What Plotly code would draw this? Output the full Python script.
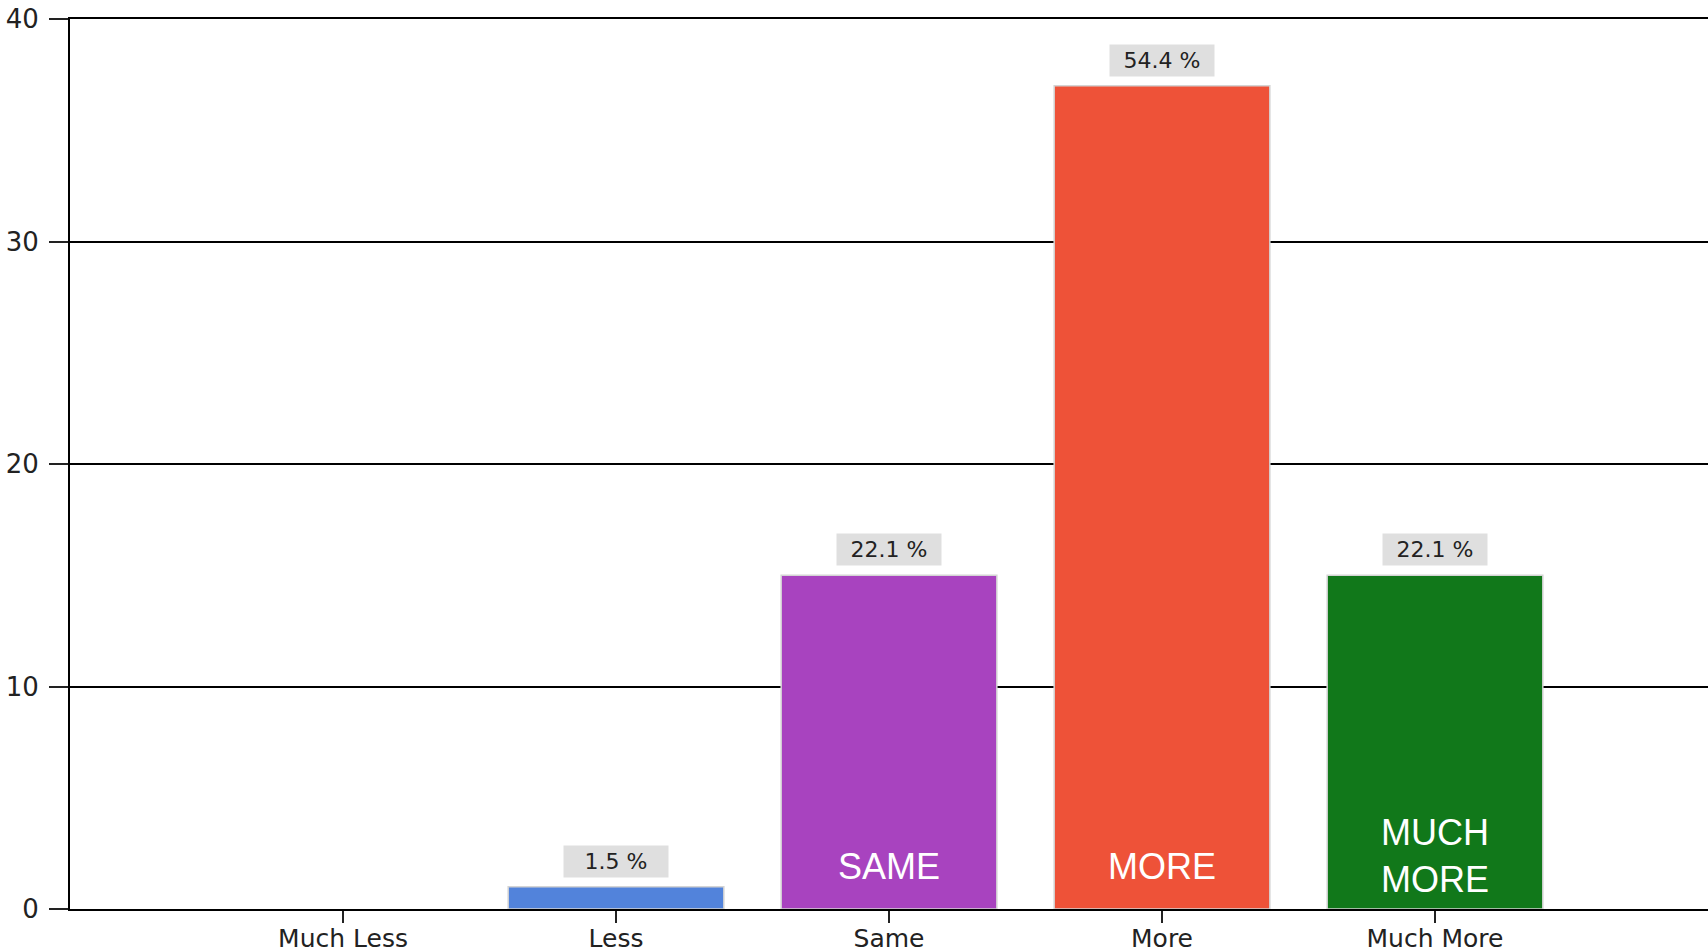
import plotly.graph_objects as go

categories = ["Much Less", "Less", "Same", "More", "Much More"]
counts = [0, 1, 15, 37, 15]
bar_colors = ["#5283DB", "#5283DB", "#A843BF", "#EE5238", "#11781A"]
inside_labels = ["", "", "SAME", "MORE", "MUCH<br>MORE"]
y_ticks = [0, 10, 20, 30, 40]

total = sum(counts)
pct_labels = [f"{c / total * 100:.1f} %" for c in counts]

fig = go.Figure()
fig.add_trace(go.Bar(
    x=categories, y=counts, width=0.79,
    marker=dict(color=bar_colors,
                line=dict(color="#D4D4D4", width=[1.5 if c > 0 else 0 for c in counts])),
    hoverinfo="x+y", showlegend=False,
))

annotations = []
for cat, c, p, lab in zip(categories, counts, pct_labels, inside_labels):
    if c > 0:
        annotations.append(dict(
            x=cat, y=c, xref="x", yref="y", text=p, showarrow=False,
            yanchor="bottom", yshift=9, bgcolor="#DFDFDF", width=100, height=27,
            borderpad=2, font=dict(family="DejaVu Sans", size=22, color="#222222"),
        ))
    if lab:
        nlines = lab.count("<br>") + 1
        annotations.append(dict(
            x=cat, y=0, xref="x", yref="y", text=lab, showarrow=False,
            yanchor="middle", yshift=43 if nlines == 1 else 53,
            font=dict(family="Liberation Sans, Arial", size=36, color="white"),
        ))

fig.update_layout(
    width=1708, height=952,
    margin=dict(l=70, r=0, t=19, b=43),
    paper_bgcolor="white", plot_bgcolor="white",
    bargap=0.21,
    annotations=annotations,
    xaxis=dict(
        type="category", range=[-1, 5], showgrid=False, automargin=False,
        showline=True, linecolor="black", linewidth=2, mirror=True,
        ticks="outside", ticklen=12, tickwidth=2, tickcolor="#222222",
        tickfont=dict(family="DejaVu Sans", size=25, color="#222222"),
        ticklabelstandoff=-6,
        fixedrange=True,
    ),
    yaxis=dict(
        range=[0, 40], tickvals=y_ticks, showgrid=True, gridcolor="black", gridwidth=2,
        showline=True, linecolor="black", linewidth=2, zeroline=False, automargin=False,
        ticks="outside", ticklen=19, tickwidth=2, tickcolor="#222222",
        tickfont=dict(family="DejaVu Sans", size=26, color="#222222"),
        ticklabelstandoff=5,
    ),
)

fig.write_html("out.html", config={"displayModeBar": False},
               post_script="document.body.style.margin='0';")
